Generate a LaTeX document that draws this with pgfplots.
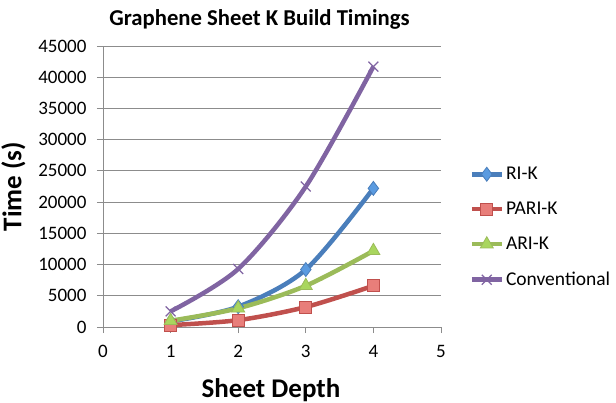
\documentclass[border=0pt]{standalone}
\usepackage{pgfplots}
\pgfplotsset{compat=1.18}
\usepackage{fontspec}
\setmainfont{Carlito}
\definecolor{cBlue}{HTML}{4A7EBB}
\definecolor{cBlueF}{HTML}{5B9BE0}
\definecolor{cRed}{HTML}{C0504D}
\definecolor{cRedF}{HTML}{E87E7A}
\definecolor{cGreen}{HTML}{9BBB59}
\definecolor{cGreenF}{HTML}{A9D65E}
\definecolor{cPurple}{HTML}{8064A2}
\definecolor{cGrid}{HTML}{8C8C8C}
\begin{document}
\begin{tikzpicture}
\path[use as bounding box] (0,0) rectangle (616bp,-403bp);
\begin{axis}[
  at={(103bp,-327bp)}, anchor=south west,
  scale only axis, width=338bp, height=281bp,
  xmin=0, xmax=5, ymin=0, ymax=45000,
  xtick={0,1,2,3,4,5}, ytick={0,5000,10000,15000,20000,25000,30000,35000,40000,45000},
  axis x line*=bottom, axis y line*=left,
  axis line style={draw=cGrid, line width=1bp},
  ymajorgrids, grid style={draw=cGrid, line width=1bp},
  tick align=outside, major tick length=6bp,
  tick style={draw=cGrid, line width=1bp},
  scaled ticks=false,
  /pgf/number format/1000 sep={},
  /pgf/number format/assume math mode=true,
  ticklabel style={font=\fontsize{19bp}{22bp}\selectfont, text=black},
  yticklabel style={xshift=-7bp},
  xticklabel style={yshift=-9bp},
  title={Graphene Sheet K Build Timings},
  title style={font=\bfseries\fontsize{22.7bp}{26bp}\selectfont, at={(0.463,1)}, anchor=center, yshift=21bp},
  xlabel={Sheet Depth},
  xlabel style={font=\bfseries\fontsize{27bp}{30bp}\selectfont, at={(0.497,-0.225)}, anchor=center},
  ylabel={Time (s)},
  ylabel style={font=\bfseries\fontsize{27bp}{30bp}\selectfont, at={(-0.265,0.5)}, anchor=center},
  legend style={at={(1.075,0.355)}, anchor=west, draw=none, fill=none,
    font=\fontsize{19.5bp}{22bp}\selectfont, row sep=17bp},
  legend cell align=left,
  legend image code/.code={
    \draw[#1, mark repeat=2, mark phase=2] plot coordinates {(0bp,0bp) (15bp,0bp) (30bp,0bp)};
  },
  every axis plot/.append style={line width=4.5bp, smooth, tension=0.5},
]
\addplot[cBlue, mark=diamond*, mark size=7bp, mark options={fill=cBlueF, draw=cBlue, line width=0.8bp}]
  coordinates {(1,900) (2,3250) (3,9200) (4,22200)};
\addlegendentry{RI-K}
\addplot[cRed, mark=square*, mark size=6bp, mark options={fill=cRedF, draw=cRed, line width=0.8bp}]
  coordinates {(1,300) (2,1100) (3,3200) (4,6600)};
\addlegendentry{PARI-K}
\addplot[cGreen, mark=triangle*, mark size=7.5bp, mark options={fill=cGreenF, draw=cGreen, line width=0.8bp}]
  coordinates {(1,1000) (2,3000) (3,6600) (4,12200)};
\addlegendentry{ARI-K}
\addplot[cPurple, mark=x, mark size=7bp, mark options={draw=cPurple, line width=1.2bp}]
  coordinates {(1,2500) (2,9300) (3,22500) (4,41700)};
\addlegendentry{Conventional}
\end{axis}
\end{tikzpicture}
\end{document}
